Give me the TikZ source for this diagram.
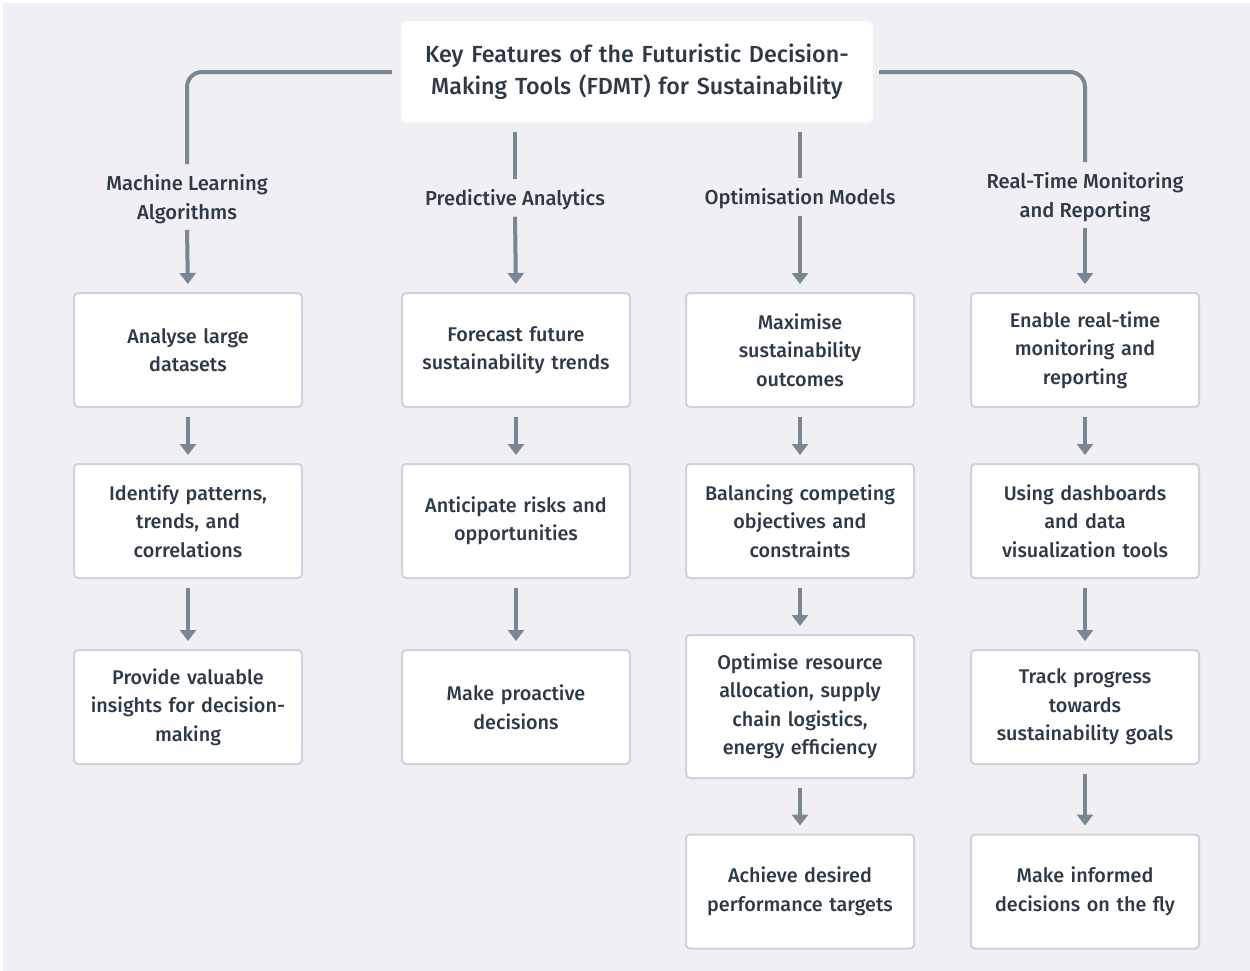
\documentclass[tikz,border=0pt]{standalone}
\usepackage{fontspec}
\setmainfont{Fira Sans}[UprightFont={* Medium}]
\usetikzlibrary{arrows.meta}
\definecolor{canvas}{HTML}{EFEFF4}
\definecolor{boxline}{HTML}{CBD4DD}
\definecolor{linkcol}{HTML}{7A8792}
\definecolor{ink}{HTML}{2D3A46}
\begin{document}
\begin{tikzpicture}[x=0.5pt, y=-0.5pt, >={Triangle[width=8pt,length=5.5pt]}]
        \tikzset{%
         every box/.style={
            draw=boxline,
            line width=1pt,
            fill=white,
            rounded corners=2pt,
            minimum width=114pt,
            minimum height=57pt,
            text width=106pt,
            align=center,
            text=ink,
            font=\fontsize{9.9}{14.25}\selectfont},
        box tall/.style={minimum height=71.5pt},
        feature/.style={
            align=center,
            inner sep=2pt,
            text=ink,
            font=\fontsize{10.1}{14.25}\selectfont},
        link/.style={draw=linkcol, line width=2pt},
        }

        \fill[white] (0,0) rectangle (1250,971);
        \fill[canvas] (3,3) rectangle (1250,971);

        \node [every box, draw=white!96!boxline, minimum width=235pt, minimum height=50pt,
            text width=227pt, font=\fontsize{11.65}{16}\selectfont] (title) at (637,72)
            {Key Features of the Futuristic Decision-\\Making Tools (FDMT) for Sustainability};

        \node [feature] (ml-head) at (187,199) {Machine Learning\\Algorithms};
        \node [feature] (pa-head) at (515,200) {Predictive Analytics};
        \node [feature] (om-head) at (800,199) {Optimisation Models};
        \node [feature] (rt-head) at (1085,197) {Real-Time Monitoring\\and Reporting};

        \foreach \t/\y [count=\r] in {{Analyse large\\datasets}/350,
                {Identify patterns,\\trends, and\\correlations}/521,
                {Provide valuable\\insights for decision-\\making}/707}
            \node [every box] (ml-\r) at (188,\y) {\t};

        \foreach \t/\y [count=\r] in {{Forecast future\\sustainability trends}/350,
                {Anticipate risks and\\opportunities}/521,
                {Make proactive\\decisions}/707}
            \node [every box] (pa-\r) at (516,\y) {\t};

        \foreach \t/\y/\s [count=\r] in {{Maximise\\sustainability\\outcomes}/350/plain,
                {Balancing competing\\objectives and\\constraints}/521/plain,
                {Optimise resource\\allocation, supply\\chain logistics,\\energy efficiency}/706.5/tall,
                {Achieve desired\\performance targets}/891.5/plain}
            \node [every box, box \s/.try] (om-\r) at (800,\y) {\t};

        \foreach \t/\y [count=\r] in {{Enable real-time\\monitoring and\\reporting}/350,
                {Using dashboards\\and data\\visualization tools}/521,
                {Track progress\\towards\\sustainability goals}/707,
                {Make informed\\decisions on the fly}/891.5}
            \node [every box] (rt-\r) at (1085,\y) {\t};

        % branches from the title
        \draw [link, rounded corners=7.5pt, shorten <=4.5pt, shorten >=3pt]
            (title.west) -| (ml-head.north);
        \draw [link, rounded corners=7.5pt, shorten <=3pt, shorten >=3pt]
            (title.east) -| (rt-head.north);
        \draw [link, shorten <=4.5pt, shorten >=3pt] (title.south -| pa-head) -- (pa-head.north);
        \draw [link, shorten <=4.5pt, shorten >=3pt] (title.south -| om-head) -- (om-head.north);

        \foreach \c in {ml,pa,om,rt}
            \draw [link, ->, shorten <=1pt, shorten >=4pt] (\c-head.south) -- (\c-1.north);

        \foreach \c/\n in {ml/3,pa/3,om/4,rt/4}
        \foreach \i [remember=\i as \h (initially 1)] in {2,...,\n}
            \draw [link, ->, shorten <=4.5pt, shorten >=4pt] (\c-\h.south) -- (\c-\i.north);
    \end{tikzpicture}
\end{document}
